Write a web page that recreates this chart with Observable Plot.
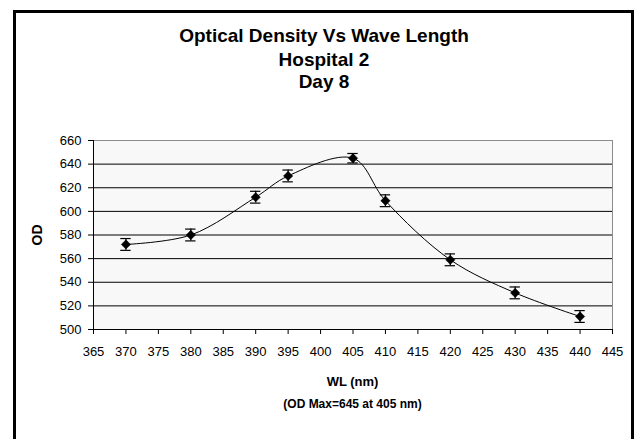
<!DOCTYPE html>
<html>
<head>
<meta charset="utf-8">
<script src="https://cdn.jsdelivr.net/npm/d3@7"></script>
<script src="https://cdn.jsdelivr.net/npm/@observablehq/plot@0.6"></script>
<style>
  html, body { margin: 0; padding: 0; background: #fff; }
  #chart { position: relative; width: 636px; height: 439px; overflow: hidden; }
</style>
</head>
<body>
<div id="chart"></div>
<script>
// Data
const wavelengths = [370, 380, 390, 395, 405, 410, 420, 430, 440];
const odValues    = [572, 580, 612, 630, 645, 609, 559, 531, 511];
const odErrors    = [5, 5, 5, 5, 4, 5, 5, 5, 5];
const xTicks = [365, 370, 375, 380, 385, 390, 395, 400, 405, 410, 415, 420, 425, 430, 435, 440, 445];
const yTicks = [500, 520, 540, 560, 580, 600, 620, 640, 660];
const titleLines = ["Optical Density Vs Wave Length", "Hospital 2", "Day 8"];
const xTitle = "WL (nm)";
const xSubtitle = "(OD Max=645 at 405 nm)";
const yTitle = "OD";

const data = wavelengths.map((wl, i) => ({wl, od: odValues[i], err: odErrors[i]}));
const font = "Arial, 'Liberation Sans', sans-serif";

const chart = Plot.plot({
  width: 636,
  height: 439,
  marginLeft: 93,
  marginRight: 24,
  marginTop: 140,
  marginBottom: 110,
  style: {fontFamily: font, fontSize: "13px", color: "#000", background: "transparent"},
  x: {domain: [365, 445], ticks: xTicks, label: null},
  y: {domain: [500, 660], ticks: yTicks, label: null},
  marks: [
    Plot.frame({fill: "#f8f8f8", stroke: "#8c8c8c"}),
    Plot.gridY(yTicks.filter(t => t > 500 && t < 660), {stroke: "#000", strokeOpacity: 1, strokeWidth: 1}),
    Plot.axisY({ticks: yTicks, tickSize: 5, tickPadding: 7, stroke: "#000", fontSize: 13, label: null}),
    Plot.axisX({ticks: xTicks, tickSize: 5, tickPadding: 12, stroke: "#000", fontSize: 13, label: null}),
    Plot.ruleX([365], {stroke: "#000"}),
    Plot.ruleY([500], {stroke: "#000"}),
    Plot.line(data, {x: "wl", y: "od", curve: "catmull-rom", stroke: "#000", strokeWidth: 1}),
    Plot.ruleX(data, {x: "wl", y1: d => d.od - d.err, y2: d => d.od + d.err, stroke: "#000", strokeWidth: 1.2}),
    Plot.ruleY(data, {y: d => d.od - d.err, x1: d => d.wl - 0.8, x2: d => d.wl + 0.8, stroke: "#000", strokeWidth: 1.2}),
    Plot.ruleY(data, {y: d => d.od + d.err, x1: d => d.wl - 0.8, x2: d => d.wl + 0.8, stroke: "#000", strokeWidth: 1.2}),
    Plot.dot(data, {x: "wl", y: "od", symbol: "diamond2", r: 4.2, fill: "#000", stroke: "#000", strokeWidth: 0.5})
  ]
});

document.getElementById("chart").appendChild(chart);

const svg = d3.select(chart);
// outer chart border
svg.append("rect")
  .attr("x", 14.5).attr("y", 11.5)
  .attr("width", 618).attr("height", 440)
  .attr("fill", "none").attr("stroke", "#000").attr("stroke-width", 3);

// titles
const titleY = [35, 59, 81];
titleLines.forEach((t, i) => {
  svg.append("text")
    .attr("x", 324).attr("y", titleY[i])
    .attr("text-anchor", "middle").attr("dominant-baseline", "central")
    .attr("font-family", font).attr("font-weight", "bold").attr("font-size", 19)
    .attr("fill", "#000")
    .text(t);
});

svg.append("text")
  .attr("x", 352.5).attr("y", 381)
  .attr("text-anchor", "middle").attr("dominant-baseline", "central")
  .attr("font-family", font).attr("font-weight", "bold").attr("font-size", 13)
  .text(xTitle);
svg.append("text")
  .attr("x", 352.5).attr("y", 404)
  .attr("text-anchor", "middle").attr("dominant-baseline", "central")
  .attr("font-family", font).attr("font-weight", "bold").attr("font-size", 12)
  .text(xSubtitle);
svg.append("text")
  .attr("transform", "translate(37,235) rotate(-90)")
  .attr("text-anchor", "middle").attr("dominant-baseline", "central")
  .attr("font-family", font).attr("font-weight", "bold").attr("font-size", 14)
  .text(yTitle);
</script>
</body>
</html>
